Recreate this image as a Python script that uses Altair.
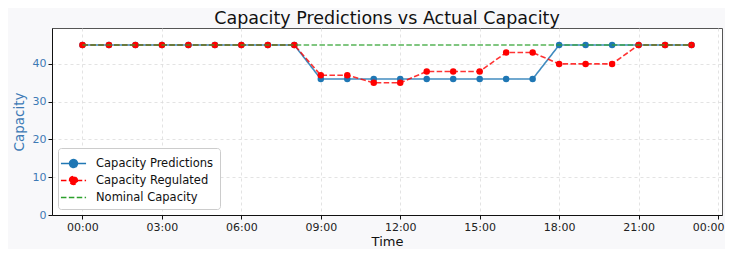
import altair as alt
import pandas as pd

hours = [0, 1, 2, 3, 4, 5, 6, 7, 8, 9, 10, 11, 12, 13, 14, 15, 16, 17, 18, 19, 20, 21, 22, 23]
predictions = [45, 45, 45, 45, 45, 45, 45, 45, 45, 36, 36, 36, 36, 36, 36, 36, 36, 36, 45, 45, 45, 45, 45, 45]
regulated = [45, 45, 45, 45, 45, 45, 45, 45, 45, 37, 37, 35, 35, 38, 38, 38, 43, 43, 40, 40, 40, 45, 45, 45]
nominal = [45, 45, 45, 45, 45, 45, 45, 45, 45, 45, 45, 45, 45, 45, 45, 45, 45, 45, 45, 45, 45, 45, 45, 45]
series = ["Capacity Predictions", "Capacity Regulated", "Nominal Capacity"]
x_ticks = [0, 3, 6, 9, 12, 15, 18, 21, 24]
y_ticks = [0, 10, 20, 30, 40]

colors = ["#1f77b4", "#ff0000", "#2ca02c"]
dashes = [[1, 0], [5.5, 2.4], [5.5, 2.4]]
LC = "M-1.45,0L1.45,0M-0.45,0A0.45,0.45,0,1,1,0.45,0A0.45,0.45,0,1,1,-0.45,0Z"
L = "M-1.45,0L1.45,0"

rows = []
for name, vals in zip(series, [predictions, regulated, nominal]):
    for h, v in zip(hours, vals):
        rows.append({"hour": h, "value": v, "series": name})
df = pd.DataFrame(rows)

FONT = "DejaVu Sans"

x = alt.X(
    "hour:Q",
    scale=alt.Scale(domain=[-1.15, 24.15], nice=False, zero=False),
    axis=alt.Axis(
        values=x_ticks,
        labelExpr="((datum.value % 24) < 10 ? '0' : '') + (datum.value % 24) + ':00'",
        title="Time",
        labelFlush=10,
        labelFlushOffset=6,
    ),
)
y = alt.Y(
    "value:Q",
    scale=alt.Scale(domain=[0, 49.5], nice=False),
    axis=alt.Axis(values=y_ticks, title="Capacity", labelColor="#3d7ab5", titleColor="#3d7ab5"),
)

leg = alt.Legend(title=None)
color_s = alt.Color("series:N", scale=alt.Scale(domain=series, range=colors), legend=leg)
dash_s = alt.StrokeDash("series:N", scale=alt.Scale(domain=series, range=dashes), legend=leg)

base = alt.Chart(df)


def line_of(name, op):
    return base.transform_filter(alt.datum.series == name).mark_line(
        strokeWidth=1.6, opacity=op
    ).encode(x=x, y=y, color=color_s, strokeDash=dash_s)


def pts_of(name):
    return base.transform_filter(alt.datum.series == name).mark_circle(
        size=42, opacity=1
    ).encode(x=x, y=y, color=color_s)


legend_layer = base.transform_filter("false").mark_point(
    filled=True, opacity=1, strokeWidth=1.6
).encode(
    x=x,
    y=y,
    color=color_s,
    stroke=alt.Stroke("series:N", scale=alt.Scale(domain=series, range=colors), legend=leg),
    shape=alt.Shape("series:N", scale=alt.Scale(domain=series, range=[LC, LC, L]), legend=leg),
    strokeDash=dash_s,
)

chart = alt.layer(
    legend_layer,
    line_of("Capacity Predictions", 0.85),
    pts_of("Capacity Predictions"),
    line_of("Capacity Regulated", 0.8),
    pts_of("Capacity Regulated"),
    line_of("Nominal Capacity", 0.8),
).properties(
    width=670,
    height=187,
    title=alt.TitleParams(
        "Capacity Predictions vs Actual Capacity",
        font=FONT, fontSize=17.5, fontWeight="normal", color="#111", anchor="middle", offset=1,
    ),
    background="#f8f8fa",
    padding={"left": 44, "top": 20, "right": 3, "bottom": 34},
    autosize=alt.AutoSizeParams(type="none"),
).configure_view(
    fill="white", stroke="#555", strokeWidth=1
).configure_axis(
    labelFont=FONT, titleFont=FONT, labelFontSize=11, titleFontSize=13, titleFontWeight="normal",
    labelColor="#222", titleColor="#111", domainColor="#111", tickColor="#111", tickSize=4,
    grid=True, gridColor="#dcdcdc", gridDash=[3, 3], gridWidth=0.8, labelPadding=2,
).configure_axisY(
    titlePadding=6, titleFontSize=13.5,
).configure_axisX(
    titlePadding=3,
).configure_legend(
    orient="bottom-left", offset=6, labelFont=FONT, labelFontSize=11.5, labelColor="#111",
    strokeColor="#cccccc", fillColor="white", cornerRadius=3, padding=6,
    symbolSize=300, symbolStrokeWidth=1.6, labelOffset=13, rowPadding=0,
)

chart.save("out.html", embed_options={"renderer": "svg", "actions": False})
